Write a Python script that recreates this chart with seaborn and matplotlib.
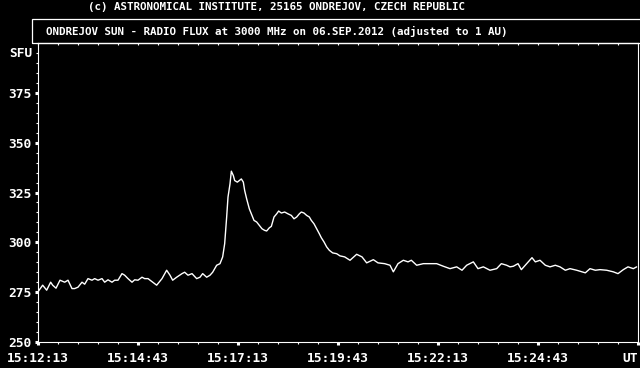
import matplotlib
matplotlib.use("Agg")
import matplotlib.pyplot as plt
from matplotlib.patches import Rectangle
import seaborn as sns
import pandas as pd

# ---- data (seconds after 15:12:13 UT, solar flux in SFU) ----
t_sec = [0, 7, 13, 19, 22, 27, 33, 40, 45, 51, 55, 60, 66, 70, 75, 81, 85, 90, 96, 100,
         105, 111, 115, 120, 126, 130, 135, 141, 145, 150, 156, 160, 165, 172, 178, 186,
         193, 198, 202, 208, 216, 220, 225, 231, 238, 243, 247, 253, 258, 262, 268, 273,
         277, 280, 283, 285, 288, 290, 293, 295, 299, 302, 305, 308, 310, 313, 317, 320,
         324, 328, 332, 336, 340, 343, 347, 350, 354, 358, 361, 365, 370, 375, 380, 384,
         388, 392, 395, 399, 403, 407, 410, 414, 418, 422, 425, 429, 433, 437, 442, 448,
         453, 460, 468, 478, 486, 493, 503, 510, 520, 528, 533, 540, 548, 555, 560, 568,
         578, 588, 598, 608, 618, 628, 636, 643, 653, 660, 668, 678, 688, 695, 703, 708,
         713, 720, 725, 733, 741, 746, 753, 761, 768, 776, 783, 791, 798, 808, 821, 828,
         836, 843, 853, 863, 870, 878, 885, 893, 898]
sfu = [275.2, 278.5, 276.0, 280.0, 278.5, 277.0, 281.0, 280.0, 281.0, 276.8, 276.8, 277.5,
       280.0, 279.0, 281.8, 281.0, 281.8, 281.0, 281.8, 280.0, 281.2, 280.0, 281.0, 281.0,
       284.3, 283.5, 281.8, 280.0, 281.2, 281.0, 282.5, 281.8, 281.8, 280.0, 278.5, 281.8,
       286.0, 283.5, 281.0, 282.5, 284.3, 285.0, 283.5, 284.3, 281.8, 282.5, 284.3, 282.5,
       283.5, 285.0, 288.5, 289.3, 292.7, 299.3, 312.7, 322.7, 329.3, 335.7, 333.5, 331.0,
       330.2, 331.0, 331.8, 330.2, 326.0, 321.8, 316.8, 314.3, 311.0, 310.2, 308.5, 306.8,
       306.0, 305.7, 307.3, 308.0, 312.7, 314.3, 315.7, 314.7, 315.2, 314.3, 313.5, 311.8,
       312.7, 314.3, 315.2, 314.7, 313.5, 312.7, 311.0, 309.3, 306.8, 304.3, 302.3, 300.2,
       297.7, 296.0, 294.7, 294.3, 293.2, 292.7, 291.0, 294.0, 292.7, 289.7, 291.3, 289.7,
       289.3, 288.5, 285.2, 289.3, 291.0, 290.2, 291.0, 288.5, 289.3, 289.3, 289.3, 288.0,
       286.8, 287.7, 286.0, 288.5, 290.2, 286.8, 287.7, 286.0, 286.8, 289.3, 288.5, 287.7,
       288.0, 289.3, 286.3, 289.3, 292.3, 290.2, 291.0, 288.5, 287.7, 288.5, 287.7, 286.0,
       286.8, 286.0, 284.7, 286.8, 286.0, 286.3, 286.0, 285.2, 284.3, 286.3, 287.7, 286.8,
       287.7]

x_ticks = [0, 150, 300, 450, 600, 750, 900]
x_labels = ["15:12:13", "15:14:43", "15:17:13", "15:19:43", "15:22:13", "15:24:43", "UT"]
y_ticks = [250, 275, 300, 325, 350, 375]
title1 = "(c) ASTRONOMICAL INSTITUTE, 25165 ONDREJOV, CZECH REPUBLIC"
title2 = "ONDREJOV SUN - RADIO FLUX at 3000 MHz on 06.SEP.2012 (adjusted to 1 AU)"

df = pd.DataFrame({"t": t_sec, "sfu": sfu})

sns.set_theme(style="ticks", rc={
    "figure.facecolor": "black", "axes.facecolor": "black",
    "axes.edgecolor": "white", "axes.linewidth": 0.8,
    "xtick.color": "white", "ytick.color": "white",
    "text.color": "white",
})
plt.rcParams["font.family"] = ["DejaVu Sans Mono"]
plt.rcParams["font.weight"] = "bold"

W, H = 640, 368
fig = plt.figure(figsize=(6.4, 3.68), dpi=100)
ax = fig.add_axes([38 / W, (H - 342) / H, 600 / W, 299 / H])

sns.lineplot(data=df, x="t", y="sfu", ax=ax, color="white", linewidth=1.0)

ax.set_xlim(0, 900)
ax.set_ylim(250, 400)
ax.set_xlabel("")
ax.set_ylabel("")
for s in ax.spines.values():
    s.set_visible(True)
    s.set_color("white")
    s.set_linewidth(0.8)

ax.set_xticks(x_ticks)
ax.set_xticklabels(x_labels)
ax.set_xticks(list(range(0, 901, 30)), minor=True)
ax.set_yticks(y_ticks)
ax.set_yticks(list(range(250, 401, 5)), minor=True)

ax.tick_params(axis="both", which="major", direction="out", length=2.5, width=2.2,
               colors="white", labelsize=9.3)
ax.tick_params(axis="both", which="minor", direction="out", length=1.6, width=0.8,
               colors="white")
ax.tick_params(axis="x", which="major", pad=4.5)
ax.tick_params(axis="y", which="major", pad=2.0)
for lab in ax.get_xticklabels() + ax.get_yticklabels():
    lab.set_fontweight("bold")
ax.get_xticklabels()[-1].set_ha("right")

# top inward minor ticks
sec = ax.secondary_xaxis("top")
sec.set_xticks([])
sec.set_xticks(list(range(0, 901, 30)), minor=True)
sec.tick_params(axis="x", which="minor", direction="in", length=1.6, width=0.8,
                colors="white", labeltop=False)
sec.spines["top"].set_color("white")
sec.spines["top"].set_linewidth(0.8)

ax.text(-6 / 600, 394.6, "SFU", transform=ax.get_yaxis_transform(),
        ha="right", va="center", fontsize=9.3, fontweight="bold", color="white")

# title box and titles
fig.add_artist(Rectangle((32 / W, (H - 43) / H), (660 - 32) / W, (43 - 19.5) / H,
                         transform=fig.transFigure, fill=False, edgecolor="white",
                         linewidth=0.9, clip_on=False))
fig.text(276 / W, 1 - 7.5 / H, title1, ha="center", va="center",
         fontsize=7.8, fontweight="bold", color="white")
fig.text(277 / W, 1 - 31.5 / H, title2, ha="center", va="center",
         fontsize=7.85, fontweight="bold", color="white")

fig.savefig("out.png", dpi=100, facecolor="black")
